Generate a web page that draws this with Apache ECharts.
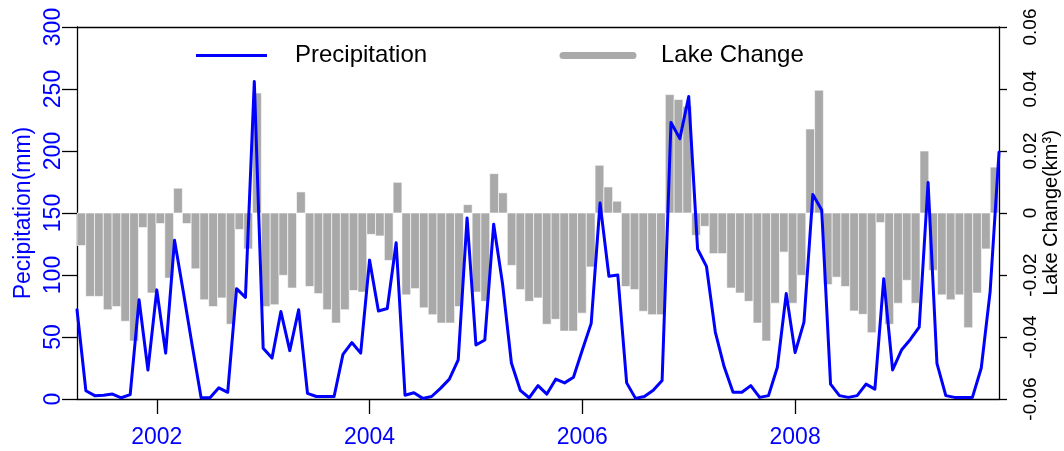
<!DOCTYPE html>
<html>
<head>
<meta charset="utf-8">
<script src="https://cdn.jsdelivr.net/npm/echarts@6/dist/echarts.min.js"></script>
<style>
  html, body { margin: 0; padding: 0; background: #ffffff; }
  #chart { width: 1064px; height: 451px; }
</style>
</head>
<body>
<div id="chart"></div>
<script>
// Monthly time steps, April 2001 through December 2009
const months = [];
for (let k = 0; k < 105; k++) {
  const m = 3 + k;
  months.push((2001 + Math.floor(m / 12)) + '-' + String((m % 12) + 1).padStart(2, '0'));
}

// Years that get a tick and label on the time axis
const yearLabels = ['2002', '2004', '2006', '2008'];

// Monthly precipitation (mm)
const precipitation = [
  72, 6.7, 2.7, 3, 4, 1, 3.5, 80, 23.4, 88,
  37, 128, 86, 43, 1, 1, 9, 5.4, 89, 82,
  256, 41, 33, 70.5, 39, 72, 4.6, 2, 2, 2,
  36, 45.5, 37, 112, 71, 73, 126, 3, 5, 0.5,
  2, 8.6, 16, 31.5, 146, 43.6, 47.6, 141, 93, 29,
  7, 1, 10.8, 4, 16, 13, 17.5, 39.5, 61, 158,
  99, 100, 13, 0.5, 2, 7, 15, 223, 210, 244,
  121, 107, 54, 26, 5.4, 5.4, 10.8, 1.3, 2.7, 25.6,
  85, 37.4, 62, 165, 152.5, 12, 2.7, 1.3, 2.7, 12,
  8, 97, 23.4, 39.5, 48, 58, 174.6, 28.8, 2.7, 1.3,
  1.3, 1.3, 25, 86.6, 199
];

// Monthly lake volume change (km^3)
const lakeChange = [
  -0.0105, -0.0269, -0.0269, -0.0312, -0.0302, -0.0349, -0.0413, -0.0047, -0.0258, -0.0034,
  -0.0210, 0.0080, -0.0034, -0.0180, -0.0280, -0.0302, -0.0274, -0.0359, -0.0053, -0.0116,
  0.0387, -0.0302, -0.0296, -0.0201, -0.0242, 0.0068, -0.0237, -0.0260, -0.0312, -0.0355,
  -0.0312, -0.0250, -0.0255, -0.0069, -0.0074, -0.0153, 0.0099, -0.0264, -0.0244, -0.0306,
  -0.0328, -0.0355, -0.0355, -0.0302, 0.0027, -0.0255, -0.0285, 0.0127, 0.0065, -0.0169,
  -0.0247, -0.0285, -0.0274, -0.0359, -0.0343, -0.0381, -0.0381, -0.0323, -0.0174, 0.0154,
  0.0084, 0.0038, -0.0237, -0.0247, -0.0317, -0.0328, -0.0328, 0.0382, 0.0366, 0.0344,
  -0.0072, -0.0043, -0.0131, -0.0131, -0.0242, -0.0258, -0.0285, -0.0355, -0.0413, -0.0291,
  -0.0126, -0.0291, -0.0201, 0.0271, 0.0396, -0.0231, -0.0207, -0.0237, -0.0316, -0.0327,
  -0.0386, -0.0031, -0.0359, -0.0291, -0.0217, -0.0291, 0.0200, -0.0185, -0.0264, -0.0280,
  -0.0264, -0.0370, -0.0258, -0.0116, 0.0148
];

const BLUE = '#0000FF';
const GREY = '#A9A9A9';
const FONT = 'Liberation Sans, Arial, Helvetica, sans-serif';

const isYearStart = (value) => value.endsWith('-01') && yearLabels.indexOf(value.slice(0, 4)) >= 0;

const chart = echarts.init(document.getElementById('chart'), null, { renderer: 'canvas' });

// Each monthly bar fills its whole band on the bar axis, from zero to the value
function renderLakeBar(params, api) {
  const idx = api.value(0);
  const val = api.value(1);
  const end = api.coord([idx, val]);
  const base = api.coord([idx, 0]);
  const band = api.size([1, 0])[0];
  const top = Math.min(end[1], base[1]);
  const h = Math.abs(end[1] - base[1]);
  return {
    type: 'rect',
    shape: { x: end[0] - band / 2, y: top, width: band, height: h },
    style: { fill: GREY, stroke: '#ffffff', lineWidth: 0.6 }
  };
}

chart.setOption({
  animation: false,
  backgroundColor: '#ffffff',
  textStyle: { fontFamily: FONT },
  grid: { left: 77, right: 65, top: 27, bottom: 52, containLabel: false, outerBoundsMode: 'none' },
  xAxis: [
    {
      // time axis for the precipitation line: points run edge to edge
      type: 'category',
      data: months,
      boundaryGap: false,
      position: 'bottom',
      axisLine: { onZero: false, lineStyle: { color: '#000', width: 1.3 } },
      axisTick: { length: 15, interval: (i, v) => isYearStart(v), lineStyle: { color: '#000', width: 1.3 } },
      axisLabel: {
        interval: (i, v) => isYearStart(v),
        formatter: (v) => v.slice(0, 4),
        color: BLUE, fontSize: 23, fontFamily: FONT, margin: 27
      },
      splitLine: { show: false }
    },
    {
      // band axis for the monthly lake bars; also draws the top frame line
      type: 'category',
      data: months,
      boundaryGap: true,
      position: 'top',
      axisLine: { show: true, onZero: false, lineStyle: { color: '#000', width: 1.3 } },
      axisTick: { show: false },
      axisLabel: { show: false },
      splitLine: { show: false }
    }
  ],
  yAxis: [
    {
      type: 'value',
      position: 'left',
      min: 0, max: 300, interval: 50,
      name: 'Pecipitation(mm)',
      nameLocation: 'middle',
      nameRotate: 90,
      nameGap: 42,
      nameMoveOverlap: false,
      nameTextStyle: { color: BLUE, fontSize: 23, fontFamily: FONT },
      axisLine: { show: true, onZero: false, lineStyle: { color: '#000', width: 1.3 } },
      axisTick: { show: true, length: 15, lineStyle: { color: '#000', width: 1.3 } },
      axisLabel: { rotate: 90, color: BLUE, fontSize: 23, fontFamily: FONT, margin: 12 },
      splitLine: { show: false }
    },
    {
      type: 'value',
      position: 'right',
      min: -0.06, max: 0.06, interval: 0.02,
      name: 'Lake Change(km\u00B3)',
      nameLocation: 'middle',
      nameRotate: 90,
      nameGap: 42,
      nameMoveOverlap: false,
      nameTextStyle: { color: '#000', fontSize: 20, fontFamily: FONT },
      axisLine: { show: true, onZero: false, lineStyle: { color: '#000', width: 1.3 } },
      axisTick: { show: true, length: 8, lineStyle: { color: '#000', width: 1.3 } },
      axisLabel: { rotate: 90, color: '#000', fontSize: 19, fontFamily: FONT, margin: 22 },
      splitLine: { show: false }
    }
  ],
  series: [
    {
      name: 'Lake Change',
      type: 'custom',
      xAxisIndex: 1,
      yAxisIndex: 1,
      data: lakeChange.map((v, i) => [i, v]),
      encode: { x: 0, y: 1 },
      renderItem: renderLakeBar,
      clip: true,
      z: 1
    },
    {
      name: 'Precipitation',
      type: 'line',
      xAxisIndex: 0,
      yAxisIndex: 0,
      data: precipitation,
      showSymbol: false,
      symbol: 'none',
      lineStyle: { color: BLUE, width: 3, join: 'round', cap: 'round' },
      z: 3
    }
  ],
  graphic: [
    { type: 'line', shape: { x1: 196, y1: 55.5, x2: 267, y2: 55.5 }, style: { stroke: BLUE, lineWidth: 3 }, z: 10 },
    { type: 'text', x: 295, y: 55.5, style: { text: 'Precipitation', font: '24px ' + FONT, fill: '#000', textVerticalAlign: 'middle' }, z: 10 },
    { type: 'line', shape: { x1: 563, y1: 55.5, x2: 633, y2: 55.5 }, style: { stroke: '#AAAAAA', lineWidth: 7, lineCap: 'round' }, z: 10 },
    { type: 'text', x: 661, y: 55.5, style: { text: 'Lake Change', font: '24px ' + FONT, fill: '#000', textVerticalAlign: 'middle' }, z: 10 }
  ]
});
</script>
</body>
</html>
